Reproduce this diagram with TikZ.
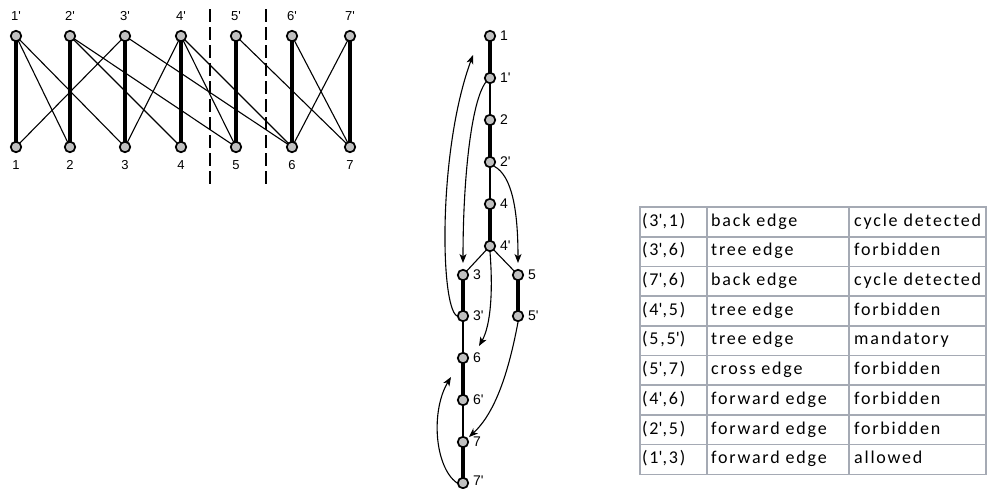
\documentclass[tikz,border=0pt]{standalone}
\usepackage{fontspec}
\setmainfont{Liberation Sans}
\newfontfamily\cellfont[LetterSpace=10]{Carlito}
\usetikzlibrary{arrows.meta,backgrounds}
\newcommand\pq{\textquotesingle}
\definecolor{vfill}{RGB}{192,192,192}
\definecolor{gridc}{RGB}{165,170,180}
% one row of the edge classification table
\newcommand\tblrow[4]{%
  \node[cell] (r#1a) at (642,{207+29.7*(#1-0.5)}) {#2};
  \node[cell] (r#1b) at (711,{207+29.7*(#1-0.5)}) {#3};
  \node[cell] (r#1c) at (854,{207+29.7*(#1-0.5)}) {#4};
}
\begin{document}
\begin{tikzpicture}[x=1pt,y=-1pt,
  vtx/.style={circle,draw=black,fill=vfill,line width=1.7pt,inner sep=0pt,minimum size=10.5pt},
  matchedge/.style={line width=4pt},
  thinedge/.style={line width=1.1pt},
  arc/.style={line width=1.1pt,-{Stealth[length=9pt,width=7pt,inset=2.5pt]}},
  lbl/.style={font=\fontsize{13}{13}\selectfont,inner sep=0pt},
  tlbl/.style={font=\fontsize{14}{14}\selectfont,inner sep=0pt,anchor=west},
  cell/.style={anchor=west,inner sep=0pt,text height=12.5pt,text depth=4pt,
               font=\cellfont\fontsize{18}{18}\selectfont},
  sep/.style={line width=2.4pt,dash pattern=on 13pt off 5pt},
  grid/.style={draw=gridc,line width=1.6pt}
]
\useasboundingbox (0,0) rectangle (987,488);

% ---------- bipartite graph ----------
\foreach \i/\x in {1/16,2/70,3/125,4/181,5/236,6/292,7/350} {
  \node[vtx] (t\i) at (\x,36) {};
  \node[vtx] (b\i) at (\x,147) {};
  \node[lbl] (tl\i) at (\x,16) {\i\pq};
  \node[lbl] (bl\i) at (\x,165) {\i};
}
\begin{scope}[on background layer]
  \foreach \i in {1,...,7} \draw[matchedge] (t\i.center) -- (b\i.center);
  \foreach \a/\b in {1/2,1/3,2/4,2/5,3/1,3/6,4/3,4/5,4/6,5/7,6/7,7/6}
    \draw[thinedge] (t\a.center) -- (b\b.center);
\end{scope}
\coordinate (s1a) at (210,9);  \coordinate (s1b) at (210,186);
\coordinate (s2a) at (266,9);  \coordinate (s2b) at (266,186);
\draw[sep] (s1a) -- (s1b);
\draw[sep] (s2a) -- (s2b);

% ---------- DFS tree ----------
\foreach \n/\x/\y/\t in {d1/490/36/1, d1p/490/78/1\pq, d2/490/120/2, d2p/490/162/2\pq,
    d4/490/204/4, d4p/490/246/4\pq, d3/463/275/3, d3p/463/316/3\pq,
    d5/518/275/5, d5p/518/316/5\pq, d6/463/358/6, d6p/463/400/6\pq,
    d7/463/442/7} {
  \node[vtx] (\n) at (\x,\y) {};
  \node[tlbl] (\n l) at (\x+10,\y) {\t};
}
\node[vtx] (d7p) at (463,483) {};
\node[tlbl] (d7pl) at (473,480.5) {7\pq};
\begin{scope}[on background layer]
  \foreach \a/\b in {d1/d1p,d2/d2p,d4/d4p,d3/d3p,d5/d5p,d6/d6p,d7/d7p}
    \draw[matchedge] (\a.center) -- (\b.center);
  \foreach \a/\b in {d1p/d2,d2p/d4,d4p/d3,d4p/d5,d3p/d6,d6p/d7}
    \draw[thinedge] (\a.center) -- (\b.center);
\end{scope}

% arrow tips of the non-tree edges
\coordinate (eA) at (473,55);
\coordinate (eB) at (463,263);
\coordinate (eC) at (518,263);
\coordinate (eD) at (479,346);
\coordinate (eE) at (469,437);
\coordinate (eF) at (451,377);
\draw[arc] (d3p.west) .. controls (440,306) and (438,150) .. (eA);
\draw[arc] (d1p.south west) .. controls (471,102) and (463,180) .. (eB);
\draw[arc] (d2p.south east) .. controls (512,176) and (518,210) .. (eC);
\draw[arc] (d4p.south) .. controls (493,290) and (491,325) .. (eD);
\draw[arc] (d5p.south) .. controls (509,370) and (496,412) .. (eE);
\draw[arc] (d7p.west) .. controls (434,466) and (431,410) .. (eF);

% ---------- classification table ----------
\draw[grid] (640,207) rectangle (986.2,474.3);
\foreach \k in {1,...,8} \draw[grid] (640,{207+29.7*\k}) -- (986.2,{207+29.7*\k});
\draw[grid] (707,207) -- (707,474.3);
\draw[grid] (849,207) -- (849,474.3);
\tblrow{1}{(3\pq,1)}{back edge}{cycle detected}
\tblrow{2}{(3\pq,6)}{tree edge}{forbidden}
\tblrow{3}{(7\pq,6)}{back edge}{cycle detected}
\tblrow{4}{(4\pq,5)}{tree edge}{forbidden}
\tblrow{5}{(5,5\pq)}{tree edge}{mandatory}
\tblrow{6}{(5\pq,7)}{cross edge}{forbidden}
\tblrow{7}{(4\pq,6)}{forward edge}{forbidden}
\tblrow{8}{(2\pq,5)}{forward edge}{forbidden}
\tblrow{9}{(1\pq,3)}{forward edge}{allowed}
\end{tikzpicture}
\end{document}
